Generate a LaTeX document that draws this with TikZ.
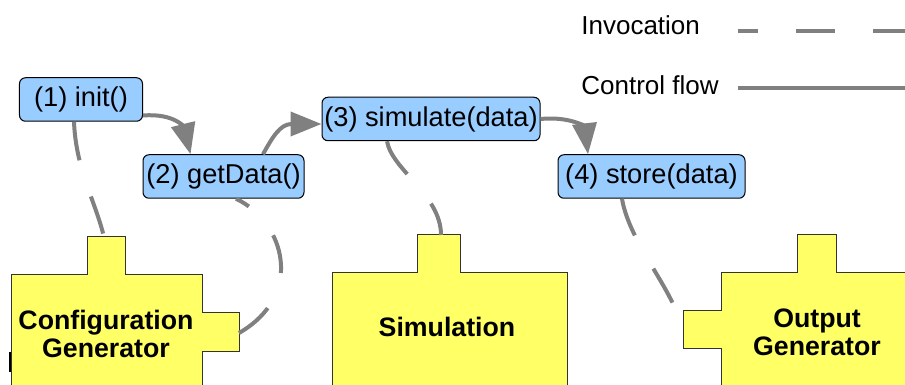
\documentclass[tikz,border=0pt]{standalone}
\usepackage{fontspec}
\setmainfont{Liberation Sans}
\usetikzlibrary{arrows.meta, calc, positioning}
\definecolor{callblue}{HTML}{99CCFF}
\definecolor{partyellow}{HTML}{FFFF66}
\definecolor{linegray}{HTML}{808080}

\begin{document}
\begin{tikzpicture}[x=0.2mm,y=-0.2mm,
  every node/.style={font=\fontsize{14.8}{17}\selectfont},
  box/.style={draw=black,fill=callblue,rounded corners=1.2mm,line width=0.2mm,minimum height=8.7mm,inner sep=0pt,font=\fontsize{15.5}{17}\selectfont},
  part/.style={draw=black!80,fill=partyellow,line width=0.2mm},
  partlabel/.style={font=\fontsize{15.2}{15.9}\selectfont\bfseries,align=center,inner sep=0pt},
  invoke/.style={draw=linegray,line width=0.8mm,dash pattern=on 7.8mm off 7.6mm},
  flow/.style={draw=linegray,line width=0.8mm,-{Triangle[length=6.2mm,width=4.8mm]}}]
\useasboundingbox (0,0) rectangle (905,385);
\clip (0,0) rectangle (905,385);

% legend
\node[anchor=base west,inner sep=0pt] (invlabel) at (581,35) {Invocation};
\node[anchor=base west,inner sep=0pt] (flowlabel) at (581,95) {Control flow};
\coordinate (invA) at (738,31);
\coordinate (invB) at (905,31);
\coordinate (flowA) at (738,88);
\coordinate (flowB) at (905,88);
\draw[invoke,dash phase=3.8mm] (invA) -- (invB);
\draw[draw=linegray,line width=0.8mm] (flowA) -- (flowB);

% components
\path[part] (11,395) -- (11,275) -- (87,275) -- (87,237) -- (125,237) -- (125,275)
  -- (202,275) -- (202,313) -- (239,313) -- (239,352) -- (202,352) -- (202,395) -- cycle;
\draw[line width=0.5mm] (10,352) -- (10,372);
\path[part] (332,395) -- (332,273) -- (417,273) -- (417,235) -- (460,235) -- (460,273)
  -- (567,273) -- (567,395) -- cycle;
\path[part] (721,395) -- (721,349) -- (683,349) -- (683,311) -- (721,311) -- (721,273)
  -- (797,273) -- (797,235) -- (836,235) -- (836,273) -- (915,273) -- (915,395) -- cycle;
\node[partlabel] (cfg) at (106,334) {Configuration\\Generator};
\node[partlabel] (sim) at (447,327) {Simulation};
\node[partlabel] (out) at (817,332) {Output\\Generator};
\coordinate (cfgtop) at (104,237);
\coordinate (cfgside) at (239,333);
\coordinate (simtop) at (441,235);
\coordinate (outside) at (674,306);

% calls
\node[box,minimum width=24.6mm] (init) at (81,99.5) {(1) init()};
\node[box,minimum width=32.2mm] (getData) at (223.5,176.5) {(2) getData()};
\node[box,minimum width=43.6mm] (simulate) at (431,119) {(3) simulate(data)};
\node[box,minimum width=37.4mm] (store) at (651.5,176.5) {(4) store(data)};

% invocations
\draw[invoke] ($(init.south)+(-7,0)$) .. controls (76,170) and (95,200) .. (cfgtop);
\draw[invoke,dash phase=4.8mm] ($(getData.south)+(12.5,0)$) .. controls (285,222) and (305,295) .. (cfgside);
\draw[invoke] ($(simulate.south)+(-44,0)$) .. controls (392,170) and (441,195) .. (simtop);
\draw[invoke] ($(store.south)+(-29.5,0)$) .. controls (628,235) and (660,275) .. (outside);

% control flow
\draw[flow] ($(init.east)+(0,16)$) .. controls (175,113) and (184,128) .. ($(getData.north)+(-33,0)$);
\draw[flow] ($(getData.north)+(39.5,0)$) .. controls (272,138) and (280,124) .. ($(simulate.west)+(0,5)$);
\draw[flow] (simulate.east) .. controls (572,116) and (585,128) .. ($(store.north)+(-63.5,0)$);
\end{tikzpicture}
\end{document}
